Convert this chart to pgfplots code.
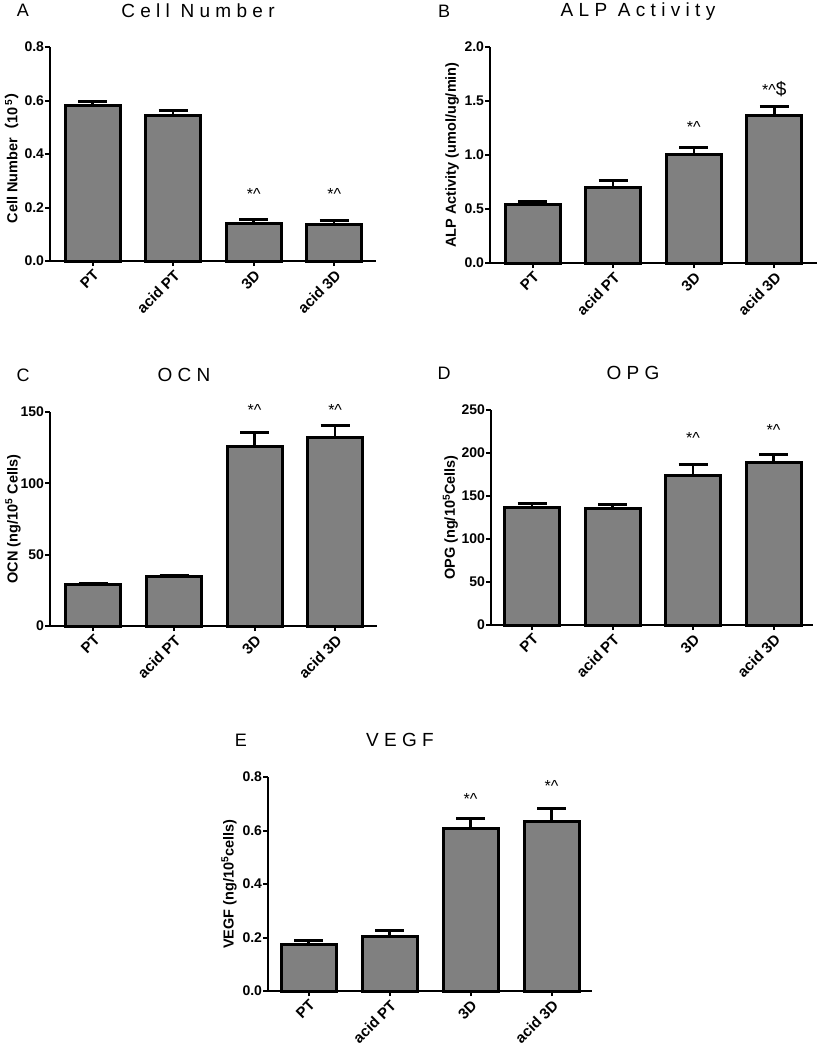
\documentclass[border=0pt]{standalone}
\usepackage{fontspec}
\setmainfont{Liberation Sans}
\newfontfamily\titlefont[LetterSpace=28]{Liberation Sans}
\newfontfamily\cjk{Noto Sans CJK SC}
\usepackage{pgfplots}
\pgfplotsset{compat=1.18}
\definecolor{bargray}{RGB}{128,128,128}
\pgfplotsset{
  panel/.style={
    scale only axis,
    anchor=south west,
    clip=false,
    axis x line*=bottom, axis y line*=left,
    axis line style={-, line width=2pt, black},
    xmin=-0.53, xmax=3.52, ymin=0,
    xtick={0,1,2,3},
    xticklabels={PT, acid PT, 3D, acid 3D},
    xticklabel style={rotate=45, anchor=north east, font=\fontsize{15}{17}\selectfont\bfseries, inner sep=2pt},
    yticklabel style={font=\fontsize{14}{16}\selectfont\bfseries, inner sep=0.8pt},
    ylabel style={font=\fontsize{14.5}{16}\selectfont\bfseries, anchor=center},
    /pgf/number format/assume math mode=true,
    tick align=outside,
    major tick length=5pt,
    tick style={line width=2pt, black},
    ybar, bar width=55pt,
  },
  barplot/.style={
    fill=bargray, draw=black, line width=3pt,
    error bars/.cd, y dir=plus, y explicit,
    error bar style={line width=2.5pt, black},
    error mark options={rotate=90, mark size=14.5pt, line width=3pt, black},
  },
}
\newcommand{\ann}{\fontsize{16}{18}\selectfont}
\newcommand{\ttl}{\titlefont\fontsize{19}{21}\selectfont}
\newcommand{\pletter}{\fontsize{18}{20}\selectfont}
\begin{document}
\begin{tikzpicture}
\useasboundingbox (0,0) rectangle (818pt,-1050pt);
% Panel A
\begin{axis}[panel, at={(50pt,-261pt)}, width=326pt, height=214pt,
  ymax=0.8, ytick={0,0.2,0.4,0.6,0.8},
  yticklabel style={/pgf/number format/.cd, fixed, fixed zerofill, precision=1},
  ylabel style={at={(axis description cs:-0.117,0.5)}},
  ylabel={Cell Number{\cjk （}10\textsuperscript{\,5}{\cjk ）}}]
\addplot[barplot] coordinates {(0,0.582) +- (0,0.015) (1,0.545) +- (0,0.016) (2,0.141) +- (0,0.014) (3,0.138) +- (0,0.013)};
\node[font=\ann] at (axis cs:2,0.25) {*\textasciicircum};
\node[font=\ann] at (axis cs:3,0.25) {*\textasciicircum};
\end{axis}
% Panel B
\begin{axis}[panel, at={(490pt,-263pt)}, width=327pt, height=216pt,
  xmin=-0.53, xmax=3.53,
  ymax=2.0, ytick={0,0.5,1.0,1.5,2.0},
  yticklabel style={/pgf/number format/.cd, fixed, fixed zerofill, precision=1},
  ylabel style={at={(axis description cs:-0.116,0.5)}},
  ylabel={ALP Activity (umol/ug/min)}]
\addplot[barplot] coordinates {(0,0.540) +- (0,0.032) (1,0.697) +- (0,0.067) (2,1.005) +- (0,0.066) (3,1.370) +- (0,0.082)};
\node[font=\ann] at (axis cs:2,1.26) {*\textasciicircum};
\node[font=\ann] at (axis cs:3,1.61) {*\textasciicircum\fontsize{19}{20}\selectfont\$};
\end{axis}
% Panel C
\begin{axis}[panel, at={(50pt,-626pt)}, width=327pt, height=214pt,
  xmin=-0.54, xmax=3.52,
  ymax=150, ytick={0,50,100,150},
  ylabel style={at={(axis description cs:-0.113,0.5)}},
  ylabel={OCN (ng/10\textsuperscript{5} Cells)}]
\addplot[barplot] coordinates {(0,28.8) +- (0,1.2) (1,34.4) +- (0,1.3) (2,126.0) +- (0,9.6) (3,132.3) +- (0,8.0)};
\node[font=\ann] at (axis cs:2,151.5) {*\textasciicircum};
\node[font=\ann] at (axis cs:3,151.5) {*\textasciicircum};
\end{axis}
% Panel D
\begin{axis}[panel, at={(491pt,-625pt)}, width=322pt, height=215pt,
  xmin=-0.51, xmax=3.49,
  ymax=250, ytick={0,50,100,150,200,250},
  ylabel style={at={(axis description cs:-0.126,0.5)}},
  ylabel={OPG (ng/10\textsuperscript{5}Cells)}]
\addplot[barplot] coordinates {(0,136.8) +- (0,4.3) (1,135.6) +- (0,4.3) (2,173.3) +- (0,13.0) (3,189.2) +- (0,9.4)};
\node[font=\ann] at (axis cs:2,217) {*\textasciicircum};
\node[font=\ann] at (axis cs:3,227) {*\textasciicircum};
\end{axis}
% Panel E
\begin{axis}[panel, at={(268pt,-991pt)}, width=324pt, height=214pt,
  xmin=-0.5, xmax=3.5,
  ymax=0.8, ytick={0,0.2,0.4,0.6,0.8},
  yticklabel style={/pgf/number format/.cd, fixed, fixed zerofill, precision=1},
  ylabel style={at={(axis description cs:-0.120,0.5)}},
  ylabel={VEGF (ng/10\textsuperscript{5}cells)}]
\addplot[barplot] coordinates {(0,0.173) +- (0,0.017) (1,0.204) +- (0,0.021) (2,0.609) +- (0,0.035) (3,0.632) +- (0,0.051)};
\node[font=\ann] at (axis cs:2,0.717) {*\textasciicircum};
\node[font=\ann] at (axis cs:3,0.766) {*\textasciicircum};
\end{axis}
% Titles and panel letters
\node[font=\ttl] at (198pt,-11pt) {Cell Number};
\node[font=\ttl] at (638pt,-12pt) {ALP Activity};
\node[font=\ttl] at (184pt,-375pt) {OCN};
\node[font=\ttl] at (633pt,-373pt) {OPG};
\node[font=\ttl] at (400pt,-740pt) {VEGF};
\node[font=\pletter] at (23pt,-10pt) {A};
\node[font=\pletter] at (444pt,-11pt) {B};
\node[font=\pletter] at (23pt,-375pt) {C};
\node[font=\pletter] at (444pt,-373pt) {D};
\node[font=\pletter] at (241pt,-740pt) {E};
\end{tikzpicture}
\end{document}
